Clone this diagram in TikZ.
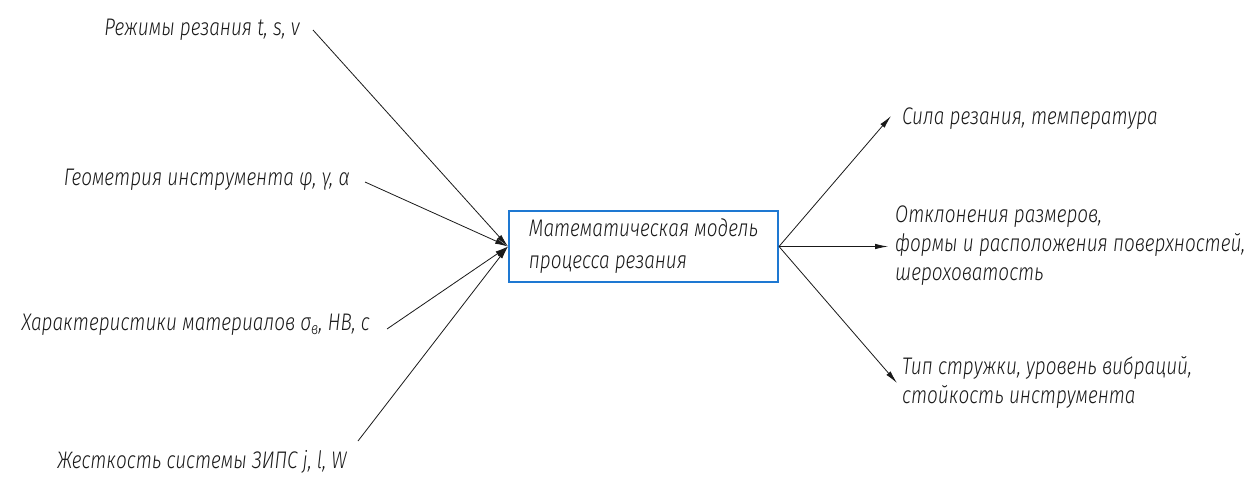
\documentclass[tikz,border=0pt]{standalone}
\usepackage{fontspec}
\setmainfont{Fira Sans}[ItalicFont={Fira Sans Light Italic}, FakeStretch=0.79]
\usetikzlibrary{arrows.meta}
\definecolor{boxblue}{RGB}{30,120,210}
\definecolor{ink}{RGB}{25,25,25}
\tikzset{
  lbl/.style={inner sep=0pt, text=ink, font=\fontsize{24}{29}\selectfont\itshape},
  modelbox/.style={draw=boxblue, line width=2pt, fill=white, inner sep=0pt,
    minimum width=269pt, minimum height=71pt, align=left, text=ink,
    font=\fontsize{24}{32}\selectfont\itshape},
  flow/.style={draw=ink, line width=0.8pt, -{Latex[length=13pt,width=5.5pt]}}
}
\begin{document}
\begin{tikzpicture}[x=1pt,y=-1pt]
  \useasboundingbox (0,0) rectangle (1256,479);

  % central block
  \node[modelbox] (model) at (643.5,246.5) {Математическая модель\\процесса резания};

  % input factors
  \node[lbl, anchor=east] (in1) at (300,30)  {Режимы резания t, s, v};
  \node[lbl, anchor=east] (in2) at (350,180) {Геометрия инструмента φ, γ, α};
  \node[lbl, anchor=east] (in3) at (370,325) {Характеристики материалов σ\textsubscript{в}, HB, c};
  \node[lbl, anchor=east] (in4) at (347,462) {Жесткость системы ЗИПС j, l, W};

  \coordinate (s1) at (313,30);
  \coordinate (s2) at (365,182);
  \coordinate (s3) at (387,329);
  \coordinate (s4) at (358,441);

  \draw[flow] (s1) -- (model.west);
  \draw[flow] (s2) -- (model.west);
  \draw[flow] (s3) -- (model.west);
  \draw[flow] (s4) -- (model.west);

  % output results
  \node[lbl, anchor=west] (out1) at (902,119) {Сила резания, температура};
  \node[lbl, anchor=west, align=left] (out2) at (895,246)
    {Отклонения размеров,\\формы и расположения поверхностей,\\шероховатость};
  \node[lbl, anchor=west, align=left] (out3) at (902,382)
    {Тип стружки, уровень вибраций,\\стойкость инструмента};

  \coordinate (e1) at (891,116);
  \coordinate (e2) at (888,246.5);
  \coordinate (e3) at (897,383);

  \draw[flow] (model.east) -- (e1);
  \draw[flow] (model.east) -- (e2);
  \draw[flow] (model.east) -- (e3);
\end{tikzpicture}
\end{document}
